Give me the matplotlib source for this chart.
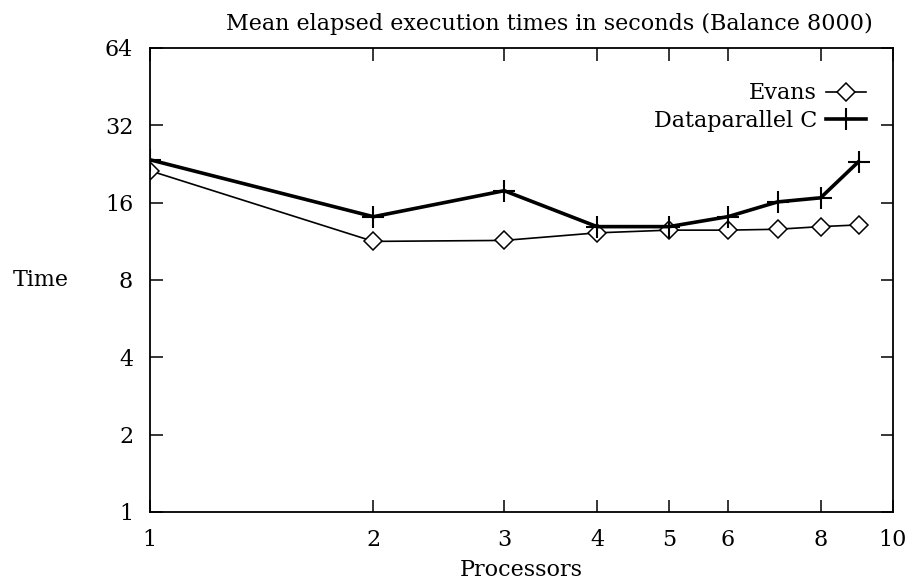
import numpy as np
import matplotlib
matplotlib.use("Agg")
import matplotlib.pyplot as plt

processors = [1, 2, 3, 4, 5, 6, 7, 8, 9]
evans = [21.3, 11.3, 11.4, 12.2, 12.5, 12.5, 12.6, 12.9, 13.1]
dpc = [23.5, 14.1, 17.8, 12.9, 12.9, 14.1, 16.1, 16.7, 23.1]
xticks = [1, 2, 3, 4, 5, 6, 8, 10]
yticks = [1, 2, 4, 8, 16, 32, 64]

plt.rcParams["font.family"] = ["DejaVu Serif"]
fig = plt.figure(figsize=(9.08, 5.85), dpi=100)
ax = fig.add_axes([0.165, 0.125, 0.818, 0.793])

ax.plot(processors, evans, color="black", lw=1.2, marker="D", ms=9.5, mfc="white", mec="black", mew=1.1, label="Evans")
ax.plot(processors, dpc, color="black", lw=2.6, marker="+", ms=16, mew=1.5, label="Dataparallel C")

ax.set_xscale("log"); ax.set_yscale("log", base=2)
ax.set_xlim(1, 10); ax.set_ylim(1, 64)
ax.set_xticks(xticks); ax.set_xticklabels([str(t) for t in xticks])
ax.set_yticks(yticks); ax.set_yticklabels([str(t) for t in yticks])
ax.minorticks_off()
ax.tick_params(direction="in", length=9, width=1.1, top=True, right=True, labelsize=16, pad=12)
for s in ax.spines.values(): s.set_linewidth(1.3)

ax.set_title("Mean elapsed execution times in seconds (Balance 8000)", fontsize=16, pad=13, x=0.538)
ax.set_xlabel("Processors", fontsize=16, labelpad=6)
ax.set_ylabel("Time", fontsize=16, rotation=0, labelpad=46, va="center")
ax.legend(loc="upper right", frameon=False, markerfirst=False, fontsize=16, handlelength=1.8, handletextpad=0.4,
          bbox_to_anchor=(0.976, 0.945), borderaxespad=0.0, labelspacing=0.25)

fig.savefig("out.png", dpi=100)
